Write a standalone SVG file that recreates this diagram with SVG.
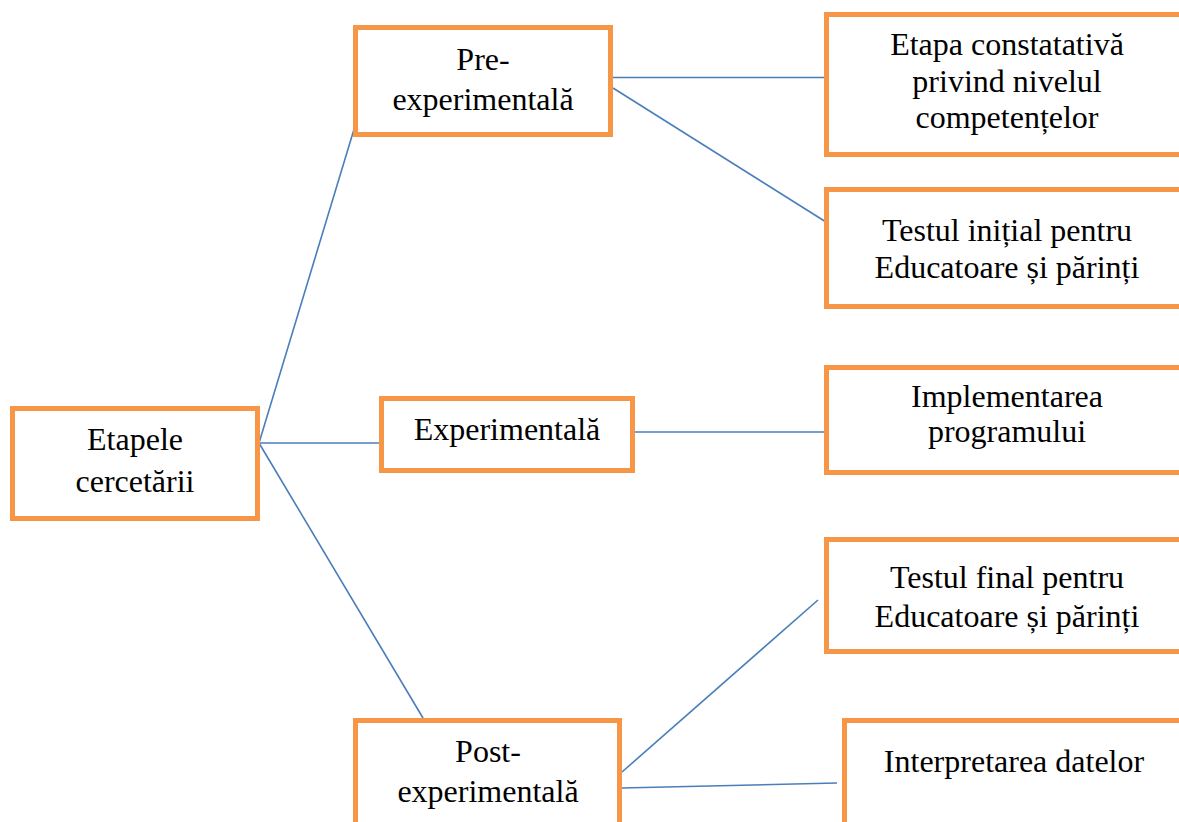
<svg xmlns="http://www.w3.org/2000/svg" width="1179" height="822" viewBox="0 0 1179 822">
<style>
.box{fill:#fff;stroke:#F79646;stroke-width:5}
.lbl{font-family:"Liberation Serif","Times New Roman",serif;font-size:32px;fill:#000;text-anchor:middle}
.conn{stroke:#4A7EBB;stroke-width:1.6;fill:none}
</style>
<rect width="1179" height="822" fill="#fff"/>
<g id="connectors">
<line class="conn" x1="259" y1="443" x2="355" y2="126"/>
<line class="conn" x1="259" y1="443" x2="379" y2="443"/>
<line class="conn" x1="259" y1="443" x2="423" y2="718"/>
<line class="conn" x1="613" y1="77.5" x2="826" y2="77.5"/>
<line class="conn" x1="613" y1="88" x2="826" y2="222"/>
<line class="conn" x1="635" y1="432" x2="826" y2="432"/>
<line class="conn" x1="622" y1="772" x2="818" y2="600"/>
<line class="conn" x1="622" y1="788" x2="837" y2="783"/>
</g>
<g id="n-etapele">
<rect class="box" x="12.5" y="408.5" width="245" height="110"/>
<text class="lbl" x="135" y="450" font-family="Liberation Serif, serif">Etapele</text>
<text class="lbl" x="135" y="492" font-family="Liberation Serif, serif">cercetării</text>
</g>
<g id="n-pre">
<rect class="box" x="355.5" y="27.5" width="255" height="107"/>
<text class="lbl" x="483" y="70">Pre-</text>
<text class="lbl" x="483" y="110">experimentală</text>
</g>
<g id="n-exp">
<rect class="box" x="381.5" y="398.5" width="251" height="72"/>
<text class="lbl" x="507" y="440">Experimentală</text>
</g>
<g id="n-post">
<rect class="box" x="355.5" y="720.5" width="264" height="120"/>
<text class="lbl" x="488" y="762">Post-</text>
<text class="lbl" x="488" y="802">experimentală</text>
</g>
<g id="n-constatativa">
<rect class="box" x="826.5" y="14.5" width="370" height="140"/>
<text class="lbl" x="1007" y="55">Etapa constatativă</text>
<text class="lbl" x="1007" y="92">privind nivelul</text>
<text class="lbl" x="1007" y="128">competențelor</text>
</g>
<g id="n-testinit">
<rect class="box" x="826.5" y="189.5" width="370" height="117"/>
<text class="lbl" x="1007" y="241">Testul inițial pentru</text>
<text class="lbl" x="1007" y="278">Educatoare și părinți</text>
</g>
<g id="n-impl">
<rect class="box" x="826.5" y="367.5" width="370" height="105"/>
<text class="lbl" x="1007" y="407">Implementarea</text>
<text class="lbl" x="1007" y="442">programului</text>
</g>
<g id="n-testfinal">
<rect class="box" x="826.5" y="539.5" width="370" height="112"/>
<text class="lbl" x="1007" y="588">Testul final pentru</text>
<text class="lbl" x="1007" y="627">Educatoare și părinți</text>
</g>
<g id="n-interp">
<rect class="box" x="844.5" y="720.5" width="360" height="120"/>
<text class="lbl" x="1014" y="772">Interpretarea datelor</text>
</g>
</svg>
